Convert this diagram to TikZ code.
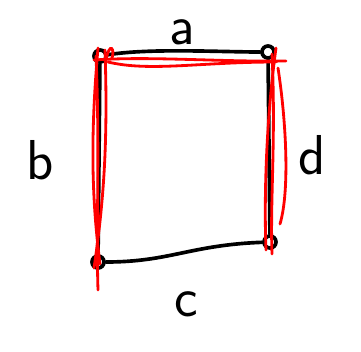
\documentclass[tikz,border=0pt]{standalone}
\usepackage{tikz}
\usetikzlibrary{calc}

\begin{document}
\begin{tikzpicture}[
  x=0.025cm, y=-0.025cm,
  corner/.style={circle, draw=black, line width=2.6pt, inner sep=0pt, minimum size=0.3cm},
  edge/.style={black, line width=2.6pt, line cap=round},
  redline/.style={red, line width=2pt, line cap=round},
  lbl/.style={font=\sffamily\fontsize{40}{42}\selectfont, inner sep=0pt}
]
\useasboundingbox (0,0) rectangle (361,351);
% corners
\node[corner] (tl) at (100,56) {};
\node[corner] (tr) at (268,52) {};
\node[corner] (br) at (270,242) {};
\node[corner] (bl) at (98,262) {};
% labels
\node[lbl] (la) at (182,32) {a};
\node[lbl] (lb) at (40,160) {b};
\node[lbl] (lc) at (186,304) {c};
\node[lbl] (ld) at (312,155) {d};
% black sides
\draw[edge] (tl) .. controls (150,48) and (220,52) .. (tr);
\draw[edge] (tl) -- (bl);
\draw[edge] (bl) .. controls (170,262) and (190,245) .. (br);
\draw[edge] (tr) -- (br);
% red strokes, top
\draw[redline] ($(tl)+(-6,4)$) .. controls (150,56) and (220,62) .. ($(tr)+(18,9)$);
\draw[redline] ($(tl)+(8,6)$) .. controls (150,72) and (200,62) .. ($(tr)+(8,10)$);
\draw[redline] ($(tl)+(6,4)$) .. controls (110,40) and (115,50) .. ($(tl)+(12,2)$);
% red strokes, left
\draw[redline] ($(tl)+(-2,-8)$) .. controls (90,140) and (92,200) .. ($(bl)+(2,2)$);
\draw[redline] ($(tl)+(5,-6)$) .. controls (108,140) and (104,200) .. ($(bl)+(-4,6)$);
\draw[redline] ($(tl)+(-4,0)$) .. controls (100,150) and (96,230) .. ($(bl)+(0,28)$);
% red strokes, right
\draw[redline] ($(tr)+(8,-4)$) .. controls (266,120) and (264,200) .. ($(br)+(-4,8)$);
\draw[redline] ($(tr)+(4,2)$) .. controls (276,140) and (270,200) .. ($(br)+(2,12)$);
\draw[redline] ($(tr)+(10,16)$) .. controls (286,120) and (290,190) .. ($(br)+(10,-18)$);
\end{tikzpicture}
\end{document}
